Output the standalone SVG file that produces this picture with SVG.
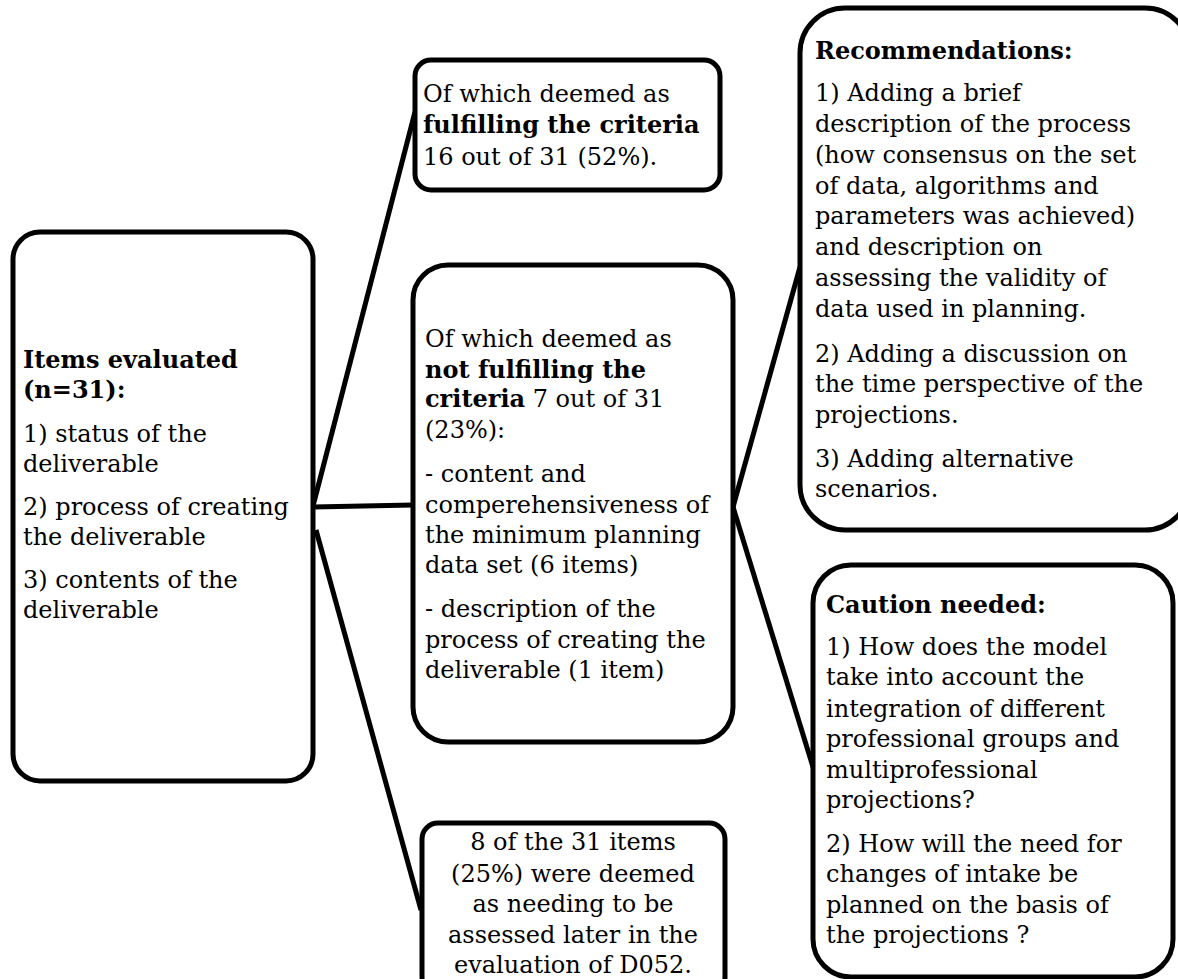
<svg xmlns="http://www.w3.org/2000/svg" width="1178" height="979" viewBox="0 0 1178 979">
<style>
.box{fill:#fff;stroke:#000;stroke-width:5}
.con{fill:none;stroke:#000;stroke-width:5}
text{font-family:"DejaVu Serif","Liberation Serif",serif;font-size:24px;fill:#000}
.b{font-weight:bold}
.c{text-anchor:middle}
</style>
<rect width="1178" height="979" fill="#fff"/>
<g id="connectors">
<line class="con" x1="313" y1="506" x2="415" y2="112"/>
<line class="con" x1="313" y1="507" x2="413" y2="505"/>
<line class="con" x1="316" y1="530" x2="421" y2="910"/>
<line class="con" x1="733" y1="507" x2="800" y2="267"/>
<line class="con" x1="733" y1="507" x2="813" y2="767"/>
</g>
<g id="items">
<rect class="box" x="13" y="232" width="300" height="549" rx="27"/>
<text x="23" y="368" class="b">Items evaluated</text>
<text x="23" y="398" class="b">(n=31):</text>
<text x="23" y="442">1) status of the</text>
<text x="23" y="472">deliverable</text>
<text x="23" y="515">2) process of creating</text>
<text x="23" y="545">the deliverable</text>
<text x="23" y="588">3) contents of the</text>
<text x="23" y="618">deliverable</text>
</g>
<g id="fulfilling">
<rect class="box" x="415" y="60" width="305" height="130" rx="16"/>
<text x="423" y="102">Of which deemed as</text>
<text x="423" y="133" class="b">fulfilling the criteria</text>
<text x="423" y="165">16 out of 31 (52%).</text>
</g>
<g id="notfulfilling">
<rect class="box" x="413" y="265" width="320" height="477" rx="35"/>
<text x="425" y="347">Of which deemed as</text>
<text x="425" y="378" class="b">not fulfilling the</text>
<text x="425" y="407"><tspan class="b">criteria</tspan> 7 out of 31</text>
<text x="425" y="438">(23%):</text>
<text x="425" y="482">- content and</text>
<text x="425" y="513">comperehensiveness of</text>
<text x="425" y="543">the minimum planning</text>
<text x="425" y="573">data set (6 items)</text>
<text x="425" y="617">- description of the</text>
<text x="425" y="648">process of creating the</text>
<text x="425" y="678">deliverable (1 item)</text>
</g>
<g id="later">
<rect class="box" x="422" y="823" width="303" height="170" rx="16"/>
<text x="573" y="850" class="c">8 of the 31 items</text>
<text x="573" y="882" class="c">(25%) were deemed</text>
<text x="573" y="912" class="c">as needing to be</text>
<text x="573" y="943" class="c">assessed later in the</text>
<text x="573" y="973" class="c">evaluation of D052.</text>
</g>
<g id="recommendations">
<rect class="box" x="800" y="8" width="390" height="522" rx="45"/>
<text x="815" y="59" class="b">Recommendations:</text>
<text x="815" y="101">1) Adding a brief</text>
<text x="815" y="132">description of the process</text>
<text x="815" y="163">(how consensus on the set</text>
<text x="815" y="194">of data, algorithms and</text>
<text x="815" y="224">parameters was achieved)</text>
<text x="815" y="255">and description on</text>
<text x="815" y="286">assessing the validity of</text>
<text x="815" y="317">data used in planning.</text>
<text x="815" y="362">2) Adding a discussion on</text>
<text x="815" y="392">the time perspective of the</text>
<text x="815" y="423">projections.</text>
<text x="815" y="467">3) Adding alternative</text>
<text x="815" y="497">scenarios.</text>
</g>
<g id="caution">
<rect class="box" x="813" y="565" width="360" height="412" rx="38"/>
<text x="826" y="613" class="b">Caution needed:</text>
<text x="826" y="655">1) How does the model</text>
<text x="826" y="685">take into account the</text>
<text x="826" y="717">integration of different</text>
<text x="826" y="747">professional groups and</text>
<text x="826" y="778">multiprofessional</text>
<text x="826" y="808">projections?</text>
<text x="826" y="852">2) How will the need for</text>
<text x="826" y="882">changes of intake be</text>
<text x="826" y="913">planned on the basis of</text>
<text x="826" y="943">the projections ?</text>
</g>
</svg>
